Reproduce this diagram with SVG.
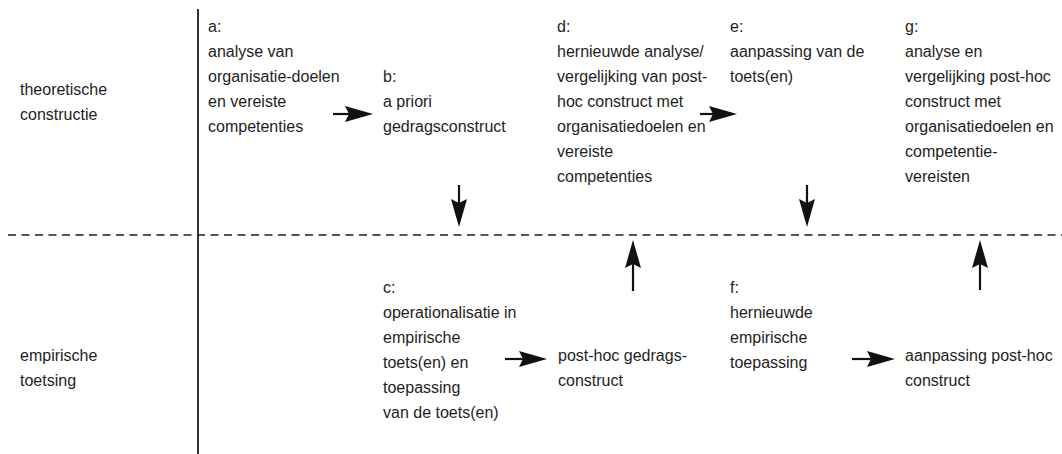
<svg xmlns="http://www.w3.org/2000/svg" width="1062" height="454" viewBox="0 0 1062 454">
  <style>
    text { font-family: "Liberation Sans", Arial, Helvetica, sans-serif; font-size: 16px; fill: #1e1e1e; }
    .axis { stroke: #1e1e1e; stroke-width: 1.8; fill: none; }
    .divider { stroke: #1e1e1e; stroke-width: 1.7; stroke-dasharray: 8 5.5; fill: none; }
    .flow { stroke: #111; stroke-width: 2.2; fill: none; marker-end: url(#head); }
  </style>
  <defs>
    <marker id="head" markerUnits="userSpaceOnUse" viewBox="0 0 28 16" markerWidth="28" markerHeight="16" refX="4" refY="8" orient="auto">
      <path d="M0,0 L28,8 L0,16 L4,8 Z" fill="#111"/>
    </marker>
  </defs>

  <rect width="1062" height="454" fill="#ffffff"/>

  <!-- frame: vertical axis and dashed divider between the two levels -->
  <g id="frame">
    <line class="axis" x1="198" y1="9" x2="198" y2="454"/>
    <line class="divider" x1="8" y1="235" x2="1062" y2="235"/>
  </g>

  <!-- level labels -->
  <g id="label-theory">
    <text x="20" y="95">theoretische</text>
    <text x="20" y="120">constructie</text>
  </g>
  <g id="label-empirical">
    <text x="20" y="361">empirische</text>
    <text x="20" y="386">toetsing</text>
  </g>

  <!-- steps -->
  <g id="step-a">
    <text x="208" y="32">a:</text>
    <text x="208" y="57">analyse van</text>
    <text x="208" y="82">organisatie-doelen</text>
    <text x="208" y="107">en vereiste</text>
    <text x="208" y="132">competenties</text>
  </g>
  <g id="step-b">
    <text x="383" y="82">b:</text>
    <text x="383" y="107">a priori</text>
    <text x="383" y="132">gedragsconstruct</text>
  </g>
  <g id="step-d">
    <text x="557" y="32">d:</text>
    <text x="557" y="57">hernieuwde analyse/</text>
    <text x="557" y="82">vergelijking van post-</text>
    <text x="557" y="107">hoc construct met</text>
    <text x="557" y="132">organisatiedoelen en</text>
    <text x="557" y="157">vereiste</text>
    <text x="557" y="182">competenties</text>
  </g>
  <g id="step-e">
    <text x="730" y="32">e:</text>
    <text x="730" y="57">aanpassing van de</text>
    <text x="730" y="82">toets(en)</text>
  </g>
  <g id="step-g">
    <text x="905" y="32">g:</text>
    <text x="905" y="57">analyse en</text>
    <text x="905" y="82">vergelijking post-hoc</text>
    <text x="905" y="107">construct met</text>
    <text x="905" y="132">organisatiedoelen en</text>
    <text x="905" y="157">competentie-</text>
    <text x="905" y="182">vereisten</text>
  </g>
  <g id="step-c">
    <text x="383" y="293">c:</text>
    <text x="383" y="318">operationalisatie in</text>
    <text x="383" y="343">empirische</text>
    <text x="383" y="368">toets(en) en</text>
    <text x="383" y="393">toepassing</text>
    <text x="383" y="418">van de toets(en)</text>
  </g>
  <g id="post-hoc-construct">
    <text x="558" y="361">post-hoc gedrags-</text>
    <text x="558" y="386">construct</text>
  </g>
  <g id="step-f">
    <text x="730" y="293">f:</text>
    <text x="730" y="318">hernieuwde</text>
    <text x="730" y="343">empirische</text>
    <text x="730" y="368">toepassing</text>
  </g>
  <g id="adjusted-construct">
    <text x="905" y="361">aanpassing post-hoc</text>
    <text x="905" y="386">construct</text>
  </g>

  <!-- connectors -->
  <g id="connectors">
    <line class="flow" x1="333" y1="114" x2="349" y2="114"/>
    <line class="flow" x1="700" y1="114" x2="713" y2="114"/>
    <line class="flow" x1="459" y1="185" x2="459" y2="203"/>
    <line class="flow" x1="807" y1="185" x2="807" y2="203"/>
    <line class="flow" x1="505" y1="359" x2="523" y2="359"/>
    <line class="flow" x1="852" y1="359" x2="871" y2="359"/>
    <line class="flow" x1="633" y1="291" x2="633" y2="264"/>
    <line class="flow" x1="980" y1="290" x2="980" y2="264"/>
  </g>
</svg>
